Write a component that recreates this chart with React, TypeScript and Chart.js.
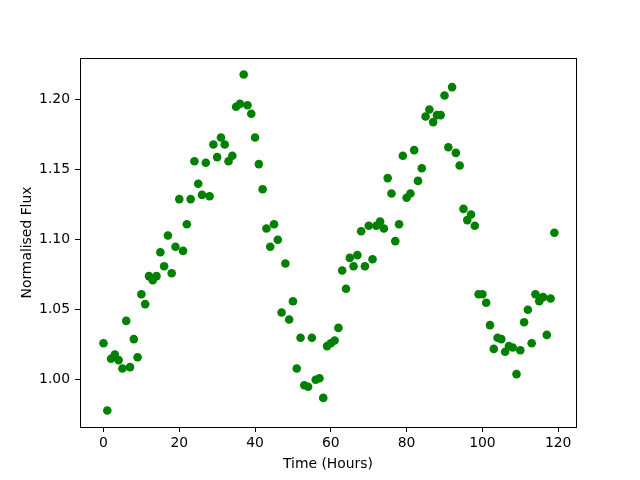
import React, { useEffect, useRef } from "react";
import { Chart, registerables } from "chart.js";

Chart.register(...registerables);

const hours = [
  0, 1, 2, 3, 4, 5, 6, 7, 8, 9, 10, 11, 12, 13, 14, 15, 16, 17, 18, 19,
  20, 21, 22, 23, 24, 25, 26, 27, 28, 29, 30, 31, 32, 33, 34, 35, 36, 37, 38, 39,
  40, 41, 42, 43, 44, 45, 46, 47, 48, 49, 50, 51, 52, 53, 54, 55, 56, 57, 58, 59,
  60, 61, 62, 63, 64, 65, 66, 67, 68, 69, 70, 71, 72, 73, 74, 75, 76, 77, 78, 79,
  80, 81, 82, 83, 84, 85, 86, 87, 88, 89, 90, 91, 92, 93, 94, 95, 96, 97, 98, 99,
  100, 101, 102, 103, 104, 105, 106, 107, 108, 109, 110, 111, 112, 113, 114, 115, 116, 117, 118, 119,
];

const flux = [
  1.026, 0.978, 1.015, 1.018, 1.014, 1.008, 1.042, 1.009, 1.029, 1.016,
  1.061, 1.054, 1.074, 1.071, 1.074, 1.091, 1.081, 1.103, 1.076, 1.095,
  1.129, 1.092, 1.111, 1.129, 1.156, 1.140, 1.132, 1.155, 1.131, 1.168,
  1.159, 1.173, 1.168, 1.156, 1.160, 1.195, 1.197, 1.218, 1.196, 1.190,
  1.173, 1.154, 1.136, 1.108, 1.095, 1.111, 1.100, 1.048, 1.083, 1.043,
  1.056, 1.008, 1.030, 0.996, 0.995, 1.030, 1.000, 1.001, 0.987, 1.024,
  1.026, 1.028, 1.037, 1.078, 1.065, 1.087, 1.081, 1.089, 1.106, 1.081,
  1.110, 1.086, 1.110, 1.113, 1.108, 1.144, 1.133, 1.099, 1.111, 1.160,
  1.130, 1.133, 1.164, 1.142, 1.151, 1.188, 1.193, 1.184, 1.189, 1.189,
  1.203, 1.166, 1.209, 1.162, 1.153, 1.122, 1.114, 1.118, 1.110, 1.061,
  1.061, 1.055, 1.039, 1.022, 1.030, 1.029, 1.020, 1.024, 1.023, 1.004,
  1.021, 1.041, 1.050, 1.026, 1.061, 1.056, 1.059, 1.032, 1.058, 1.105,
];

const xTicks = [0, 20, 40, 60, 80, 100, 120];
const yTicks = [1.0, 1.05, 1.1, 1.15, 1.2];

const FONT = "'DejaVu Sans', sans-serif";

const framePlugin = {
  id: "frame",
  afterDraw(chart: any) {
    const { ctx, chartArea } = chart;
    const { left, top, right, bottom } = chartArea;
    ctx.save();
    ctx.strokeStyle = "#000";
    ctx.lineWidth = 1;
    ctx.strokeRect(Math.round(left) + 0.5, Math.round(top) + 0.5, Math.round(right - left), Math.round(bottom - top));
    ctx.restore();
  },
};

export default function App() {
  const ref = useRef<HTMLCanvasElement | null>(null);

  useEffect(() => {
    if (!ref.current) return;
    const chart = new Chart(ref.current, {
      type: "scatter",
      data: {
        datasets: [
          {
            data: hours.map((h, i) => ({ x: h, y: flux[i] })),
            backgroundColor: "#008000",
            borderColor: "#008000",
            borderWidth: 0,
            pointRadius: 4.3,
            pointHoverRadius: 4.3,
          },
        ],
      },
      options: {
        animation: false,
        responsive: false,
        devicePixelRatio: 1,
        events: [],
        layout: { padding: { left: 0, top: 58, right: 64, bottom: 0 }, autoPadding: false },
        plugins: { legend: { display: false }, tooltip: { enabled: false } },
        scales: {
          x: {
            type: "linear",
            position: "bottom",
            min: -6.2,
            max: 124.7,
            afterBuildTicks: (s: any) => {
              s.ticks = xTicks.map((v) => ({ value: v }));
            },
            afterFit: (s: any) => {
              s.height = 53;
            },
            grid: { drawOnChartArea: false, drawTicks: true, tickLength: 5, color: "#000", lineWidth: 1 },
            border: { display: false },
            ticks: {
              color: "#000",
              font: { family: FONT, size: 13.9 },
              padding: 3,
              maxRotation: 0,
              autoSkip: false,
              callback: (v: any) => String(v),
            },
            title: {
              display: true,
              text: "Time (Hours)",
              color: "#000",
              font: { family: FONT, size: 13.9 },
              padding: { top: 0, bottom: 7.5 },
            },
          },
          y: {
            type: "linear",
            min: 0.9662,
            max: 1.2298,
            afterBuildTicks: (s: any) => {
              s.ticks = yTicks.map((v) => ({ value: v }));
            },
            afterFit: (s: any) => {
              s.width = 80;
            },
            grid: { drawOnChartArea: false, drawTicks: true, tickLength: 5, color: "#000", lineWidth: 1 },
            border: { display: false },
            ticks: {
              color: "#000",
              font: { family: FONT, size: 13.9 },
              padding: 5,
              autoSkip: false,
              callback: (v: any) => Number(v).toFixed(2),
            },
            title: {
              display: true,
              text: "Normalised Flux",
              color: "#000",
              font: { family: FONT, size: 13.9 },
              padding: { top: 19, bottom: 0 },
            },
          },
        },
      },
      plugins: [framePlugin],
    });
    return () => chart.destroy();
  }, []);

  return (
    <div style={{ position: "absolute", left: 0, top: 0, width: 640, height: 480, background: "#fff" }}>
      <canvas ref={ref} width={640} height={480} style={{ display: "block", width: 640, height: 480 }} />
    </div>
  );
}
